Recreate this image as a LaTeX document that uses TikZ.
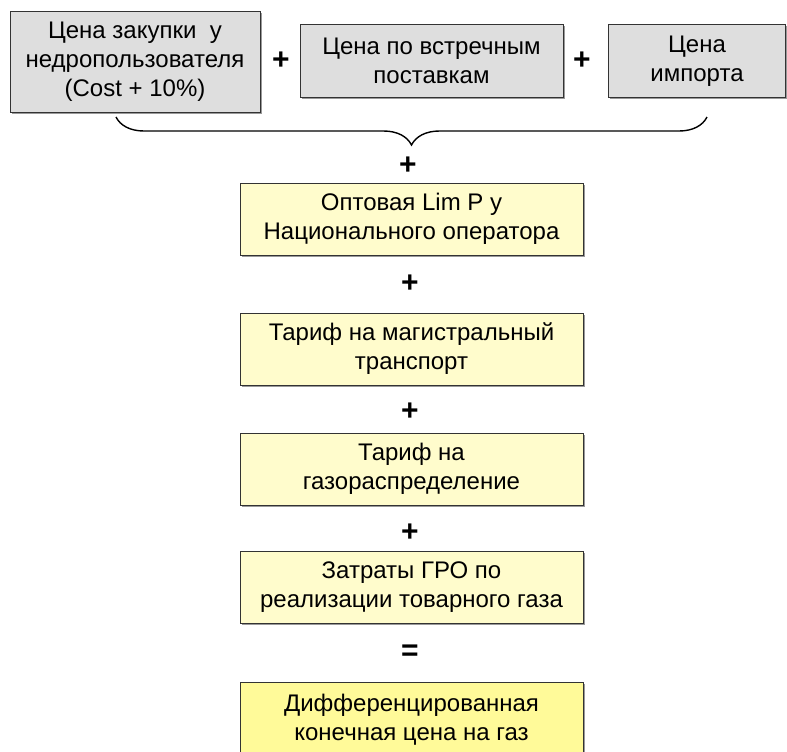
\documentclass[tikz,border=0pt]{standalone}
\usepackage{fontspec}
\setmainfont{Liberation Sans}
\usetikzlibrary{shadows,decorations.pathreplacing}

\begin{document}
\begin{tikzpicture}[x=0.5pt, y=-0.5pt,
        box/.style={shape=rectangle, draw=black!80, line width=0.5pt, align=center, inner sep=0pt,
            font=\fontsize{12}{14.5}\selectfont,
            drop shadow={shadow xshift=0.8pt, shadow yshift=-0.8pt, opacity=1, fill=black!40}},
        greybox/.style={box, fill=black!13},
        yellowbox/.style={box, fill=yellow!20, minimum width=171.5pt, minimum height=36pt},
        lastbox/.style={box, fill=yellow!40, minimum width=171.5pt, minimum height=38pt},
        sign/.style={inner sep=0pt, font=\fontsize{15}{18}\selectfont\bfseries}
    ]
        \clip (0,0) rectangle (787,751);
        \useasboundingbox (0,0) rectangle (787,751);

        % top row
        \node[greybox, minimum width=125pt, minimum height=50.5pt] (purchase) at (135,62)
            {Цена закупки~ у\\недропользователя\\(Cost + 10\%)};
        \node[sign] (p1) at (281,61) {+};
        \node[greybox, minimum width=131.5pt, minimum height=36.5pt] (counter) at (431.5,60.5)
            {Цена по встречным\\поставкам};
        \node[sign] (p2) at (582,61) {+};
        \node[greybox, minimum width=88.5pt, minimum height=36.5pt] (import) at (697,61)
            {Цена\\импорта};

        % brace
        \coordinate (bl) at (116,117);
        \coordinate (br) at (707,117);
        \draw[line width=0.7pt, decorate, decoration={brace, mirror, amplitude=14pt}] (bl) -- (br);

        % column
        \node[sign] (p3) at (408,166) {+};
        \node[yellowbox] (opt) at (411.5,219) {Оптовая Lim P у\\Национального оператора};
        \node[sign] (p4) at (410,284) {+};
        \node[yellowbox] (mag) at (411.5,349) {Тариф на магистральный\\транспорт};
        \node[sign] (p5) at (410,412) {+};
        \node[yellowbox] (distr) at (411.5,469) {Тариф на\\газораспределение};
        \node[sign] (p6) at (410,533) {+};
        \node[yellowbox] (gro) at (411.5,587) {Затраты ГРО по\\реализации товарного газа};
        \node[sign] (eq) at (410,653) {=};
        \node[lastbox] (final) at (411.5,720) {Дифференцированная\\конечная цена на газ};

    \end{tikzpicture}
\end{document}
